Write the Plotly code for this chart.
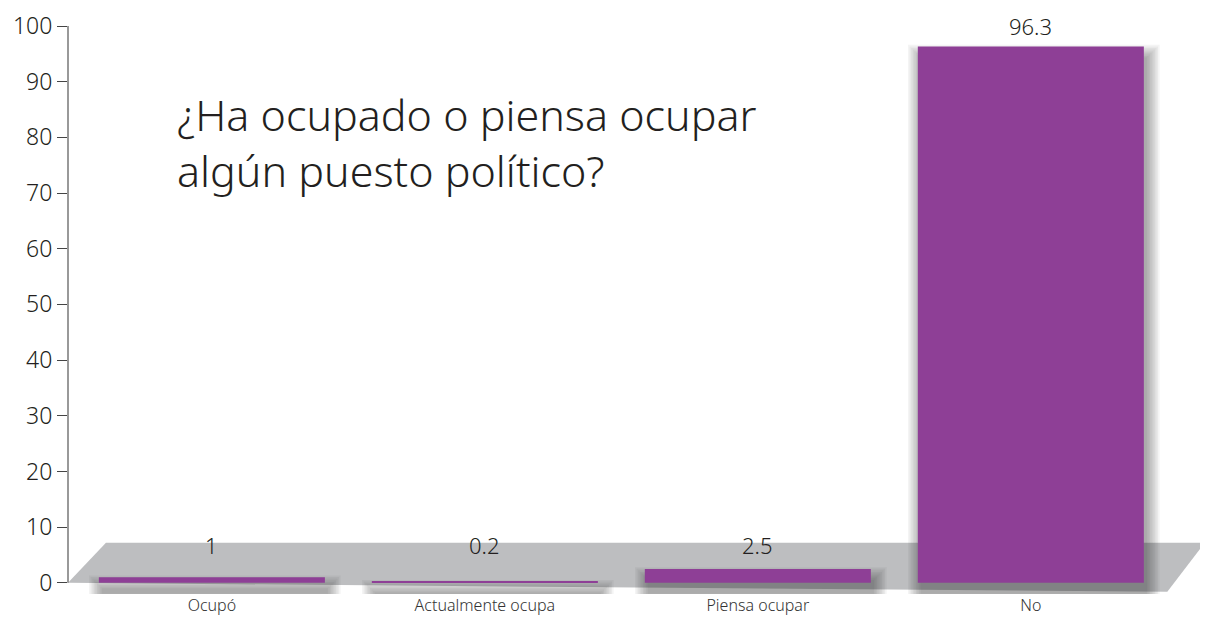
import plotly.graph_objects as go

categories = ["Ocupó", "Actualmente ocupa", "Piensa ocupar", "No"]
values = [1, 0.2, 2.5, 96.3]
value_labels = ["1", "0.2", "2.5", "96.3"]
y_ticks = list(range(0, 101, 10))
title_text = "¿Ha ocupado o piensa ocupar<br>algún puesto político?"

PURPLE = "#8E3F96"
FLOOR = "#BDBEC0"
TXT = "#231F20"
FONT = "Noto Sans"

XR = [-0.527, 3.649]
YR = [-2, 100]
px_x = 1140 / (XR[1] - XR[0])   # pixels per x unit
px_y = 568 / (YR[1] - YR[0])    # pixels per y unit
half = (1 - 0.172) / 2

fig = go.Figure()
fig.add_trace(go.Bar(x=categories, y=values, marker=dict(color=PURPLE, line=dict(width=0)),
                     width=2 * half, hoverinfo="skip"))

shapes = []
# floor
shapes.append(dict(type="path", xref="x", yref="y", layer="below",
                   path=f"M {XR[0]},0 L {-0.388},7.2 L {3.637},7.2 L {3.50},-1.6 Z",
                   fillcolor=FLOOR, line=dict(width=0)))
# soft blurred shadows
for i, v in enumerate(values):
    for k in range(9):
        e = k * 1.6
        dx, dy = 3, 11
        shapes.append(dict(type="rect", xref="x", yref="y", layer="below",
                           x0=i - half + (dx - e) / px_x, x1=i + half + (dx + e) / px_x,
                           y0=-(dy + e) / px_y, y1=v - (dy - e) / px_y,
                           fillcolor="rgba(30,30,30,0.05)", line=dict(width=0)))
# y axis line
shapes.append(dict(type="line", xref="paper", yref="y", x0=0, x1=0, y0=0, y1=100,
                   line=dict(color="#555555", width=1.2)))

annotations = []
for c, v, t in zip(categories, values, value_labels):
    # labels sit a fixed gap above the (minimum visible) bar top
    shift = 5 + max(0.0, 3.0 - v) * px_y
    annotations.append(dict(x=c, y=v, text=t, showarrow=False, yanchor="bottom", yshift=shift,
                            borderpad=0,
                            font=dict(family=FONT, size=22, color=TXT, weight=300)))
annotations.append(dict(xref="paper", yref="paper", x=0.094, y=0.9, xanchor="left", yanchor="top",
                        text=title_text, showarrow=False, align="left",
                        font=dict(family=FONT, size=43, color=TXT, weight=300)))

fig.update_layout(
    width=1200, height=612,
    margin=dict(l=60, r=0, t=18, b=26),
    paper_bgcolor="white", plot_bgcolor="white",
    showlegend=False,
    shapes=shapes, annotations=annotations,
    xaxis=dict(range=XR, showgrid=False, zeroline=False, showline=False, ticks="",
               tickfont=dict(family=FONT, size=16, color="#333333", weight=300)),
    yaxis=dict(range=YR, tickvals=y_ticks, showgrid=False, zeroline=False, showline=False,
               ticks="outside", ticklen=10, tickcolor="#444444", tickwidth=1.2,
               tickfont=dict(family=FONT, size=23, color=TXT, weight=300)),
)

fig.write_html("out.html")
